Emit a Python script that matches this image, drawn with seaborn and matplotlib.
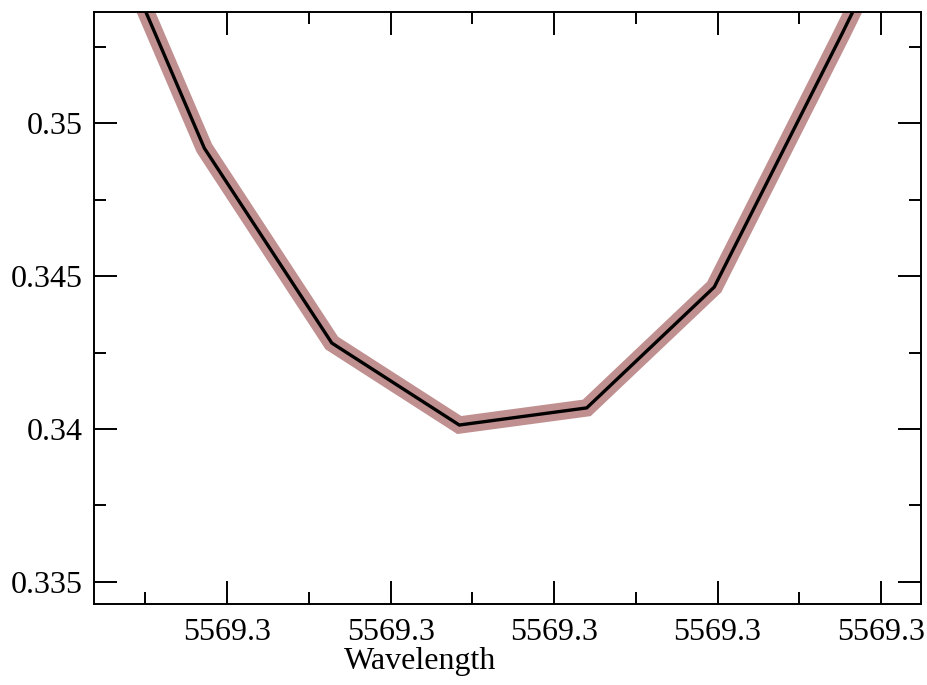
import matplotlib
matplotlib.use("Agg")
import matplotlib.pyplot as plt
import seaborn as sns
import pandas as pd
from matplotlib.ticker import FixedLocator, FormatStrFormatter

# Data
wavelength = [5569.2708, 5569.2786, 5569.2864, 5569.2942, 5569.3020, 5569.3098, 5569.3176, 5569.3255]
flux = [0.35889, 0.34918, 0.34281, 0.34013, 0.34069, 0.34464, 0.35290, 0.36150]
x_major = [5569.28, 5569.29, 5569.30, 5569.31, 5569.32]
x_minor = [5569.275, 5569.285, 5569.295, 5569.305, 5569.315]
y_major = [0.335, 0.34, 0.345, 0.35]
y_minor = [0.3325, 0.3375, 0.3425, 0.3475, 0.3525]
x_label = "Wavelength"

df = pd.DataFrame({"Wavelength": wavelength, "Flux": flux})

sns.set_theme(style="ticks")
plt.rcParams["font.family"] = ["Liberation Serif", "DejaVu Serif"]

fig = plt.figure(figsize=(9.28, 6.85), dpi=100)
ax = fig.add_axes([94/928, 1-604/685, (921-94)/928, (604-12)/685])

sns.lineplot(data=df, x="Wavelength", y="Flux", ax=ax, sort=False, estimator=None,
             color="#c08f8f", linewidth=12.5, solid_capstyle="butt", solid_joinstyle="miter")
sns.lineplot(data=df, x="Wavelength", y="Flux", ax=ax, sort=False, estimator=None,
             color="black", linewidth=2.4, solid_joinstyle="miter")

ax.set_xlim(5569.27185, 5569.32245)
ax.set_ylim(0.33428, 0.35363)

ax.xaxis.set_major_locator(FixedLocator(x_major))
ax.xaxis.set_minor_locator(FixedLocator(x_minor))
ax.yaxis.set_major_locator(FixedLocator(y_major))
ax.yaxis.set_minor_locator(FixedLocator(y_minor))
ax.xaxis.set_major_formatter(FormatStrFormatter("%.1f"))
ax.yaxis.set_major_formatter(FormatStrFormatter("%g"))

ax.tick_params(which="both", direction="in", top=True, right=True, width=1.4, colors="black",
               labelsize=23, labelcolor="black")
ax.tick_params(which="major", length=16.5)
ax.tick_params(which="minor", length=8.3)
ax.tick_params(axis="x", which="major", pad=10)
ax.tick_params(axis="y", which="major", pad=8)

for s in ax.spines.values():
    s.set_linewidth(1.4)
    s.set_color("black")

ax.set_xlabel(x_label, fontsize=23, color="black")
ax.set_ylabel("")
ax.xaxis.set_label_coords(0.394, -0.072)

fig.savefig("out.png", dpi=100)
